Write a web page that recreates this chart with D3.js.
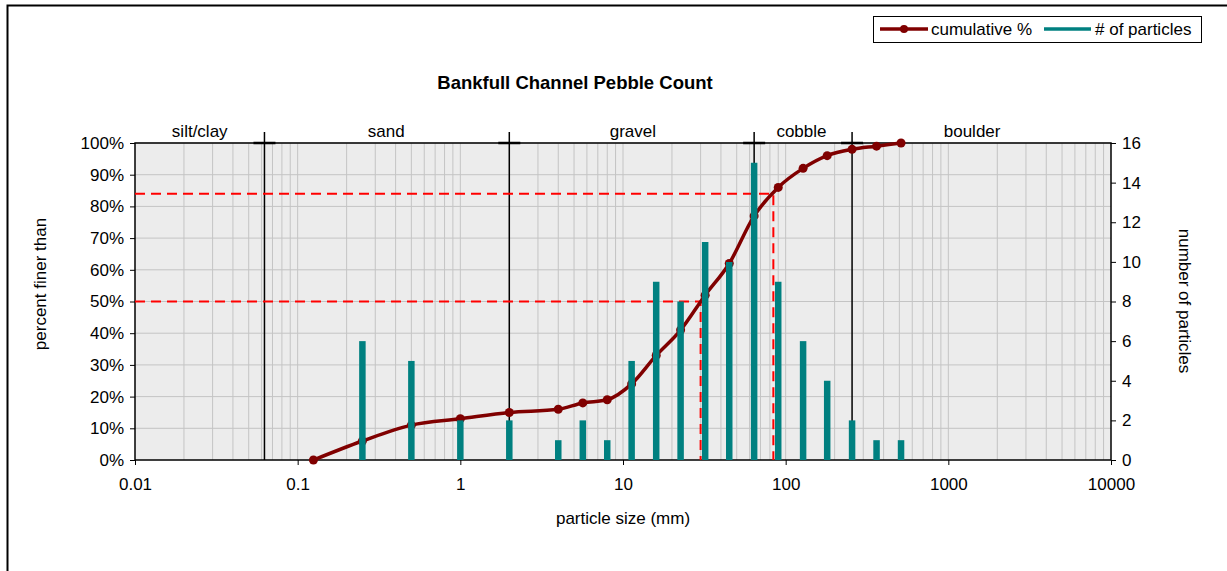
<!DOCTYPE html>
<html>
<head>
<meta charset="utf-8">
<script src="https://cdn.jsdelivr.net/npm/d3@7"></script>
<style>
  body { margin: 0; background: #fff; }
  text { font-family: "Liberation Sans", Arial, sans-serif; fill: #000; }
</style>
</head>
<body>
<div id="chart"></div>
<script>
// sieve sizes (mm) and particle counts
const sizes = [0.25, 0.5, 1, 2, 4, 5.66, 8, 11.3, 16, 22.6, 32, 45, 64, 90, 128, 180, 256, 362, 512];
const counts = [6, 5, 2, 2, 1, 2, 1, 5, 9, 8, 11, 10, 15, 9, 6, 4, 2, 1, 1];

// cumulative percent finer than
const cumSizes = [0.125, 0.25, 0.5, 1, 2, 4, 5.66, 8, 11.3, 16, 22.6, 32, 45, 64, 90, 128, 180, 256, 362, 512];
const cumPct = [0, 6, 11, 13, 15, 16, 18, 19, 24, 33, 41, 52, 62, 77, 86, 92, 96, 98, 99, 100];

// size class boundaries and labels
const classBounds = [0.0625, 2, 64, 256];
const classNames = ["silt/clay", "sand", "gravel", "cobble", "boulder"];
const classLabelAt = [0.025, 0.35, 11.5, 125, 1400];

// D50 / D84
const dLines = [{ p: 50, d: 30 }, { p: 84, d: 84 }];

const xTicks = [0.01, 0.1, 1, 10, 100, 1000, 10000];
const yTicks = [0, 10, 20, 30, 40, 50, 60, 70, 80, 90, 100];
const y2Ticks = [0, 2, 4, 6, 8, 10, 12, 14, 16];

const width = 1227, height = 571;
const pL = 135, pR = 1111, pT = 143, pB = 460;
const fs = "17px";

const svg = d3.select("#chart")
    .append("svg")
    .attr("width", width)
    .attr("height", height);

// outer frame (top and left only visible)
svg.append("path")
    .attr("d", "M7.5,571 L7.5,5.5 L1227,5.5")
    .attr("fill", "none")
    .attr("stroke", "#000")
    .attr("stroke-width", 2);

const x = d3.scaleLog().domain([0.01, 10000]).range([pL, pR]);
const y = d3.scaleLinear().domain([0, 100]).range([pB, pT]);
const y2 = d3.scaleLinear().domain([0, 16]).range([pB, pT]);

// plot background
svg.append("rect")
    .attr("x", pL).attr("y", pT)
    .attr("width", pR - pL).attr("height", pB - pT)
    .attr("fill", "#ececec");

// vertical minor grid
const minors = [];
for (let e = -2; e < 4; e++) {
  for (let m = 1; m <= 9; m++) minors.push(m * Math.pow(10, e));
}
svg.append("g").selectAll("line")
    .data(minors.filter(v => v > 0.01))
    .enter().append("line")
    .attr("x1", d => x(d)).attr("x2", d => x(d))
    .attr("y1", pT).attr("y2", pB)
    .attr("stroke", "#c4c4c4")
    .attr("stroke-width", 1);

// horizontal grid
svg.append("g").selectAll("line")
    .data(yTicks.slice(1))
    .enter().append("line")
    .attr("x1", pL).attr("x2", pR)
    .attr("y1", d => y(d)).attr("y2", d => y(d))
    .attr("stroke", "#c4c4c4");

// plot border
svg.append("rect")
    .attr("x", pL).attr("y", pT)
    .attr("width", pR - pL).attr("height", pB - pT)
    .attr("fill", "none")
    .attr("stroke", "#000")
    .attr("stroke-width", 1.5);

// class boundaries
const cb = svg.append("g");
cb.selectAll(".v").data(classBounds).enter().append("line")
    .attr("x1", d => x(d)).attr("x2", d => x(d))
    .attr("y1", pT - 11).attr("y2", pB)
    .attr("stroke", "#000").attr("stroke-width", 1.5);
cb.selectAll(".h").data(classBounds).enter().append("line")
    .attr("x1", d => x(d) - 11).attr("x2", d => x(d) + 11)
    .attr("y1", pT).attr("y2", pT)
    .attr("stroke", "#000").attr("stroke-width", 2.5);

svg.append("g").selectAll("text")
    .data(classNames)
    .enter().append("text")
    .attr("x", (d, i) => x(classLabelAt[i]))
    .attr("y", pT - 6)
    .attr("text-anchor", "middle")
    .attr("font-size", fs)
    .text(d => d);

// D50 / D84 dashed lines
const dl = svg.append("g");
dLines.forEach(o => {
  dl.append("path")
    .attr("d", `M${pL},${y(o.p)} L${x(o.d)},${y(o.p)} L${x(o.d)},${pB}`)
    .attr("fill", "none")
    .attr("stroke", "#ff0000")
    .attr("stroke-width", 2)
    .attr("stroke-dasharray", "10,6");
});

// cumulative curve
const cum = cumSizes.map((s, i) => ({ s: s, p: cumPct[i] }));
const line = d3.line().x(d => x(d.s)).y(d => y(d.p)).curve(d3.curveMonotoneX);
svg.append("path")
    .datum(cum)
    .attr("d", line)
    .attr("fill", "none")
    .attr("stroke", "#800000")
    .attr("stroke-width", 3.5);
svg.append("g").selectAll("circle")
    .data(cum)
    .enter().append("circle")
    .attr("cx", d => x(d.s)).attr("cy", d => y(d.p))
    .attr("r", 4.5)
    .attr("fill", "#800000");

// bars (drawn over the curve)
svg.append("g").selectAll("line")
    .data(sizes)
    .enter().append("line")
    .attr("x1", d => x(d)).attr("x2", d => x(d))
    .attr("y1", pB).attr("y2", (d, i) => y2(counts[i]))
    .attr("stroke", "#008080")
    .attr("stroke-width", 6.5);

// axes
const fmtX = d => d >= 1 ? String(d) : String(+d.toFixed(2));
svg.append("g")
    .attr("transform", `translate(0,${pB})`)
    .call(d3.axisBottom(x).tickValues(xTicks).tickFormat(fmtX).tickSize(5).tickPadding(13))
    .call(g => g.select(".domain").remove())
    .call(g => g.selectAll("text").attr("font-size", fs).attr("font-family", "Liberation Sans, Arial"));

svg.append("g")
    .attr("transform", `translate(${pL},0)`)
    .call(d3.axisLeft(y).tickValues(yTicks).tickFormat(d => d + "%").tickSize(5).tickPadding(6))
    .call(g => g.select(".domain").remove())
    .call(g => g.selectAll("text").attr("font-size", fs).attr("font-family", "Liberation Sans, Arial"));

svg.append("g")
    .attr("transform", `translate(${pR},0)`)
    .call(d3.axisRight(y2).tickValues(y2Ticks).tickSize(5).tickPadding(6))
    .call(g => g.select(".domain").remove())
    .call(g => g.selectAll("text").attr("font-size", fs).attr("font-family", "Liberation Sans, Arial"));

// titles
svg.append("text")
    .attr("x", 575).attr("y", 89)
    .attr("text-anchor", "middle")
    .attr("font-size", "18.5px")
    .attr("font-weight", "bold")
    .text("Bankfull Channel Pebble Count");

svg.append("text")
    .attr("x", 623).attr("y", 524)
    .attr("text-anchor", "middle")
    .attr("font-size", fs)
    .text("particle size (mm)");

svg.append("text")
    .attr("transform", `translate(46,284) rotate(-90)`)
    .attr("text-anchor", "middle")
    .attr("font-size", fs)
    .text("percent finer than");

svg.append("text")
    .attr("transform", `translate(1179,301) rotate(90)`)
    .attr("text-anchor", "middle")
    .attr("font-size", fs)
    .text("number of particles");

// legend
const lg = svg.append("g");
lg.append("rect")
    .attr("x", 873.5).attr("y", 16.5)
    .attr("width", 328).attr("height", 26)
    .attr("fill", "#fff").attr("stroke", "#000");
lg.append("line")
    .attr("x1", 880).attr("x2", 928).attr("y1", 29).attr("y2", 29)
    .attr("stroke", "#800000").attr("stroke-width", 3.5);
lg.append("circle").attr("cx", 904).attr("cy", 29).attr("r", 4).attr("fill", "#800000");
lg.append("text").attr("x", 931).attr("y", 35).attr("font-size", fs).text("cumulative %");
lg.append("line")
    .attr("x1", 1044).attr("x2", 1091).attr("y1", 29).attr("y2", 29)
    .attr("stroke", "#008080").attr("stroke-width", 3.5);
lg.append("text").attr("x", 1095).attr("y", 35).attr("font-size", fs).text("# of particles");
</script>
</body>
</html>
